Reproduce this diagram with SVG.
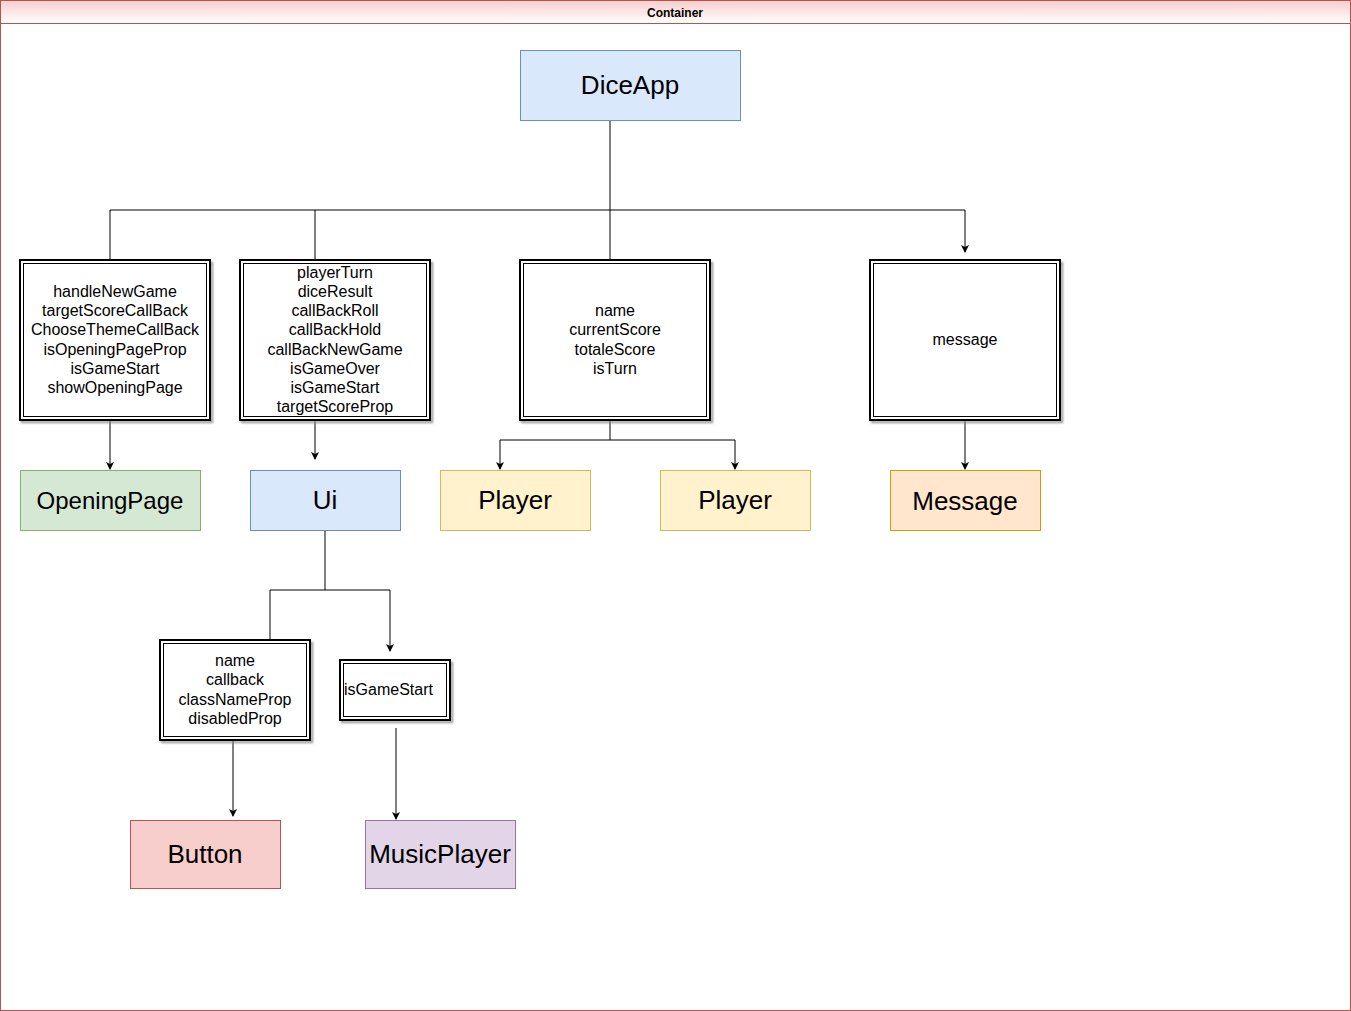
<svg xmlns="http://www.w3.org/2000/svg" width="1351" height="1011" viewBox="0 0 1351 1011">
<defs>
<linearGradient id="hdr" x1="0" y1="0" x2="0" y2="1">
<stop offset="0" stop-color="#f8cecc"/><stop offset="1" stop-color="#ffffff"/>
</linearGradient>
<marker id="arr" markerWidth="10" markerHeight="10" refX="7" refY="4" orient="auto" markerUnits="userSpaceOnUse">
<path d="M0,0 L8,4 L0,8 L2,4 z" fill="#000"/>
</marker>
<filter id="sh" x="-10%" y="-10%" width="120%" height="120%">
<feGaussianBlur stdDeviation="1"/>
</filter>
</defs>
<style>
.lbl{font-family:"Liberation Sans",Arial,sans-serif;font-size:26px;fill:#000;text-anchor:middle;dominant-baseline:central}
.txt{font-family:"Liberation Sans",Arial,sans-serif;font-size:16px;fill:#000;text-anchor:middle;dominant-baseline:central}
.edge{fill:none;stroke:#000;stroke-width:1}
.arw{marker-end:url(#arr)}
.out{fill:#fff;stroke:#000;stroke-width:2}
.inn{fill:none;stroke:#000;stroke-width:1}
.shd{fill:none;stroke:#888;stroke-width:2;filter:url(#sh)}
</style>
<rect width="1351" height="1011" fill="#fff"/>
<g id="container">
<rect x="0.5" y="0.5" width="1350" height="1010" fill="#fff" stroke="#b85450"/>
<rect x="0.5" y="0.5" width="1350" height="23" fill="url(#hdr)" stroke="#b85450"/>
<text x="675" y="13" font-family="Liberation Sans,Arial,sans-serif" font-size="12" font-weight="bold" text-anchor="middle" dominant-baseline="central">Container</text>
</g>
<g id="connectors">
<path class="edge" d="M610,120 L610,260"/>
<path class="edge" d="M110,260 L110,210 L965,210"/>
<path class="edge" d="M315,210 L315,260"/>
<path class="edge arw" d="M965,210 L965,252"/>
<path class="edge arw" d="M110,420 L110,469"/>
<path class="edge arw" d="M315,420 L315,459"/>
<path class="edge arw" d="M610,420 L610,440 L500,440 L500,469"/>
<path class="edge arw" d="M610,440 L735,440 L735,469"/>
<path class="edge arw" d="M965,420 L965,469"/>
<path class="edge" d="M325,530 L325,590 L270,590 L270,640"/>
<path class="edge arw" d="M325,590 L390,590 L390,651"/>
<path class="edge arw" d="M233,740 L233,816"/>
<path class="edge arw" d="M396,728 L396,819"/>
</g>
<g id="diceapp">
<rect x="520.5" y="50.5" width="220" height="70" fill="#dae8fc" stroke="#6c8ebf"/>
<text class="lbl" x="630" y="85">DiceApp</text>
</g>
<g id="props-opening">
<rect class="shd" x="22" y="263" width="190" height="159"/>
<rect class="out" x="20" y="260" width="190" height="160"/>
<rect class="inn" x="23.5" y="263.5" width="183" height="153"/>
<text class="txt" x="115" y="291">handleNewGame</text>
<text class="txt" x="115" y="310">targetScoreCallBack</text>
<text class="txt" x="115" y="329">ChooseThemeCallBack</text>
<text class="txt" x="115" y="349">isOpeningPageProp</text>
<text class="txt" x="115" y="368">isGameStart</text>
<text class="txt" x="115" y="387">showOpeningPage</text>
</g>
<g id="props-ui">
<rect class="shd" x="242" y="263" width="190" height="159"/>
<rect class="out" x="240" y="260" width="190" height="160"/>
<rect class="inn" x="243.5" y="263.5" width="183" height="153"/>
<text class="txt" x="335" y="272">playerTurn</text>
<text class="txt" x="335" y="291">diceResult</text>
<text class="txt" x="335" y="310">callBackRoll</text>
<text class="txt" x="335" y="329">callBackHold</text>
<text class="txt" x="335" y="349">callBackNewGame</text>
<text class="txt" x="335" y="368">isGameOver</text>
<text class="txt" x="335" y="387">isGameStart</text>
<text class="txt" x="335" y="406">targetScoreProp</text>
</g>
<g id="props-player">
<rect class="shd" x="522" y="263" width="190" height="159"/>
<rect class="out" x="520" y="260" width="190" height="160"/>
<rect class="inn" x="523.5" y="263.5" width="183" height="153"/>
<text class="txt" x="615" y="310">name</text>
<text class="txt" x="615" y="329">currentScore</text>
<text class="txt" x="615" y="349">totaleScore</text>
<text class="txt" x="615" y="368">isTurn</text>
</g>
<g id="props-message">
<rect class="shd" x="872" y="263" width="190" height="159"/>
<rect class="out" x="870" y="260" width="190" height="160"/>
<rect class="inn" x="873.5" y="263.5" width="183" height="153"/>
<text class="txt" x="965" y="339">message</text>
</g>
<g id="props-button">
<rect class="shd" x="162" y="643" width="150" height="99"/>
<rect class="out" x="160" y="640" width="150" height="100"/>
<rect class="inn" x="163.5" y="643.5" width="143" height="93"/>
<text class="txt" x="235" y="660">name</text>
<text class="txt" x="235" y="679">callback</text>
<text class="txt" x="235" y="699">classNameProp</text>
<text class="txt" x="235" y="718">disabledProp</text>
</g>
<g id="props-music">
<rect class="shd" x="342" y="663" width="110" height="59"/>
<rect class="out" x="340" y="660" width="110" height="60"/>
<rect class="inn" x="343.5" y="663.5" width="103" height="53"/>
<text class="txt" x="344" y="689" style="text-anchor:start">isGameStart</text>
</g>
<g id="openingpage">
<rect x="20.5" y="470.5" width="180" height="60" fill="#d5e8d4" stroke="#82b366"/>
<text class="lbl" x="110" y="500" style="font-size:24px">OpeningPage</text>
</g>
<g id="ui">
<rect x="250.5" y="470.5" width="150" height="60" fill="#dae8fc" stroke="#6c8ebf"/>
<text class="lbl" x="325" y="500">Ui</text>
</g>
<g id="player1">
<rect x="440.5" y="470.5" width="150" height="60" fill="#fff2cc" stroke="#d6b656"/>
<text class="lbl" x="515" y="500">Player</text>
</g>
<g id="player2">
<rect x="660.5" y="470.5" width="150" height="60" fill="#fff2cc" stroke="#d6b656"/>
<text class="lbl" x="735" y="500">Player</text>
</g>
<g id="message">
<rect x="890.5" y="470.5" width="150" height="60" fill="#ffe6cc" stroke="#d79b00"/>
<text class="lbl" x="965" y="501">Message</text>
</g>
<g id="button">
<rect x="130.5" y="820.5" width="150" height="68" fill="#f8cecc" stroke="#b85450"/>
<text class="lbl" x="205" y="854">Button</text>
</g>
<g id="musicplayer">
<rect x="365.5" y="820.5" width="150" height="68" fill="#e1d5e7" stroke="#9673a6"/>
<text class="lbl" x="440" y="854">MusicPlayer</text>
</g>
</svg>
